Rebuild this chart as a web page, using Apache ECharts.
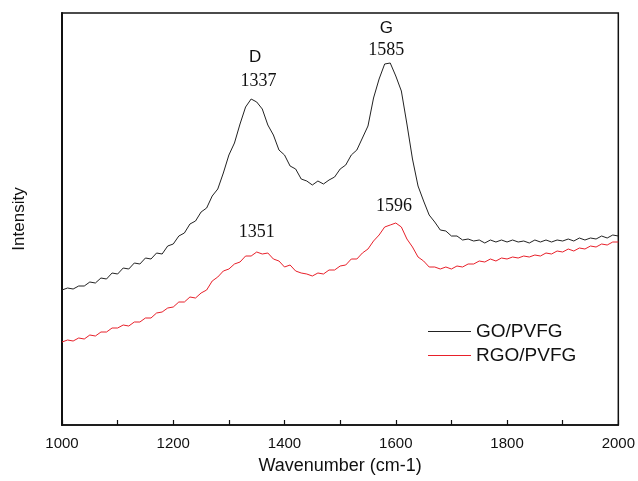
<!DOCTYPE html>
<html>
<head>
<meta charset="utf-8">
<script src="https://cdn.jsdelivr.net/npm/echarts@6/dist/echarts.min.js"></script>
<style>html,body{margin:0;padding:0;background:#fff}#c{width:638px;height:481px}</style>
</head>
<body>
<div id="c"></div>
<script>
// Wavenumbers, 1000..2000 step 10 (cm-1)
var wavenumbers = [1000,1010,1020,1030,1040,1050,1060,1070,1080,1090,1100,1110,1120,1130,1140,1150,1160,1170,1180,1190,1200,1210,1220,1230,1240,1250,1260,1270,1280,1290,1300,1310,1320,1330,1340,1350,1360,1370,1380,1390,1400,1410,1420,1430,1440,1450,1460,1470,1480,1490,1500,1510,1520,1530,1540,1550,1560,1570,1580,1590,1600,1610,1620,1630,1640,1650,1660,1670,1680,1690,1700,1710,1720,1730,1740,1750,1760,1770,1780,1790,1800,1810,1820,1830,1840,1850,1860,1870,1880,1890,1900,1910,1920,1930,1940,1950,1960,1970,1980,1990,2000];
// GO/PVFG intensity (arb. units)
var goPVFG = [135,137,136,139,139,143,142,147,146,152,151,157,156,162,161,167,166,172,171,179,181,189,192,201,204,213,217,229,236,252,270,282,301,318,326,323,316,300,290,275,270,259,256,246,244,240,244,241,245,248,256,260,270,275,287,299,327,346,361,362,349,334,301,266,239,224,210,203,195,194,189,189,185,186,184,185,182,185,183,185,183,185,183,184,182,185,183,185,183,185,184,186,184,187,185,187,186,189,187,190,189];
// RGO/PVFG intensity (arb. units)
var rgoPVFG = [83,85,84,87,86,90,89,93,93,97,97,100,99,103,103,107,107,112,113,117,118,123,123,128,127,132,135,144,148,154,156,161,163,169,169,173,171,172,166,164,158,160,154,152,151,149,152,151,155,155,159,160,166,166,172,176,184,190,198,200,202,198,186,178,168,164,158,158,156,158,156,159,158,161,161,164,163,166,164,167,166,168,167,169,168,170,169,172,171,174,173,176,174,177,176,179,178,181,180,183,183];
var seriesNames = ['GO/PVFG','RGO/PVFG'];

function pairs(vals){ return wavenumbers.map(function(w,i){return [w, vals[i]];}); }

var serif = {fontFamily:'Liberation Serif', fontSize:18, color:'#111'};
var sans = {fontFamily:'Liberation Sans', fontSize:17, color:'#111'};
function mp(coord, text, style){
  return {coord: coord, value: text, symbolSize: 0,
    label: Object.assign({show:true, position:'inside', formatter: text}, style)};
}

var chart = echarts.init(document.getElementById('c'));
chart.setOption({
  animation: false,
  backgroundColor: '#fff',
  grid: {left:62, right:18, top:13, bottom:56, show:true, borderColor:'#111', borderWidth:1.5, backgroundColor:'transparent'},
  legend: {
    orient:'vertical', left:428, top:322, padding:0, itemWidth:43, itemHeight:1, itemGap:5,
    icon:'rect',
    textStyle:{fontFamily:'Liberation Sans', fontSize:19, color:'#111', lineHeight:19},
    data: seriesNames
  },
  xAxis: {
    type:'value', min:1000, max:2000, interval:200,
    name:'Wavenumber (cm-1)', nameLocation:'middle', nameGap:32,
    nameTextStyle:{fontFamily:'Liberation Sans', fontSize:18, color:'#111'},
    axisLine:{show:true, lineStyle:{color:'#111', width:1.5}},
    axisTick:{show:true, inside:true, length:5, lineStyle:{color:'#111', width:1.2}},
    minorTick:{show:true, splitNumber:2, length:5, lineStyle:{color:'#111', width:1.2}},
    axisLabel:{fontFamily:'Liberation Sans', fontSize:15, color:'#111', margin:11,
      formatter:function(v){return String(v);}},
    splitLine:{show:false}
  },
  yAxis: {
    type:'value', min:0, max:412,
    name:'Intensity', nameLocation:'middle', nameGap:34,
    nameTextStyle:{fontFamily:'Liberation Sans', fontSize:17, color:'#111'},
    axisLine:{show:true, lineStyle:{color:'#111', width:2}},
    axisTick:{show:false}, axisLabel:{show:false}, splitLine:{show:false}
  },
  series: [
    {name:seriesNames[0], type:'line', data:pairs(goPVFG), showSymbol:false, symbol:'none',
     lineStyle:{color:'#222', width:1}, itemStyle:{color:'#222'},
     markPoint:{animation:false, data:[
       mp([1347,368],'D',sans), mp([1353,344],'1337',serif),
       mp([1583,397],'G',sans), mp([1583,375],'1585',serif)
     ]}},
    {name:seriesNames[1], type:'line', data:pairs(rgoPVFG), showSymbol:false, symbol:'none',
     lineStyle:{color:'#e8202a', width:1}, itemStyle:{color:'#e8202a'},
     markPoint:{animation:false, data:[
       mp([1350,193],'1351',serif), mp([1597,219],'1596',serif)
     ]}}
  ]
});
</script>
</body>
</html>
